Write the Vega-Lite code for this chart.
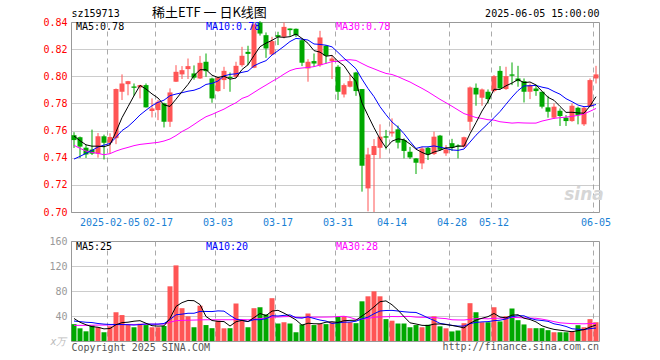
{
"$schema":"https://vega.github.io/schema/vega-lite/v6.json",
"background":"white",
"padding":{"left":42,"top":6,"right":5,"bottom":5},
"bounds":"flush",
"spacing":29,
"config":{
 "view":{"stroke":"#999999","strokeWidth":1},
 "font":"DejaVu Sans Mono",
 "axis":{"labelFont":"DejaVu Sans Mono","labelFontSize":10,"titleFont":"DejaVu Sans Mono","titleFontSize":10,"titleFontWeight":"normal","ticks":false,"domain":false,"gridOpacity":1,"labelOverlap":false},
 "text":{"font":"DejaVu Sans Mono","fontSize":10}
},
"datasets":{"k":[
{"d":"2025-01-20","o":0.7566,"h":0.7588,"l":0.7472,"c":0.753,"v":27,"m5":0.756,"m10":0.739,"m30":0.7491,"vm5":36,"vm10":32,"vm30":25},
{"d":"2025-01-21","o":0.7551,"h":0.7556,"l":0.7398,"c":0.7482,"v":20.3,"m5":0.7525,"m10":0.741,"m30":0.7469,"vm5":30,"vm10":31,"vm30":25},
{"d":"2025-01-22","o":0.7474,"h":0.7495,"l":0.7398,"c":0.7424,"v":15.5,"m5":0.7495,"m10":0.7432,"m30":0.7449,"vm5":26,"vm10":30,"vm30":25},
{"d":"2025-01-23","o":0.746,"h":0.7607,"l":0.742,"c":0.743,"v":25,"m5":0.7485,"m10":0.7454,"m30":0.7439,"vm5":23,"vm10":29.5,"vm30":25.3},
{"d":"2025-01-24","o":0.743,"h":0.7582,"l":0.74,"c":0.7558,"v":22,"m5":0.7485,"m10":0.7479,"m30":0.7432,"vm5":22,"vm10":28,"vm30":25.5},
{"d":"2025-01-27","o":0.7558,"h":0.757,"l":0.7387,"c":0.751,"v":14,"m5":0.7481,"m10":0.7493,"m30":0.7422,"vm5":19.4,"vm10":27,"vm30":25.5},
{"d":"2025-02-05","o":0.751,"h":0.758,"l":0.743,"c":0.7553,"v":23.5,"m5":0.7495,"m10":0.7505,"m30":0.743,"vm5":20,"vm10":26.5,"vm30":25.7},
{"d":"2025-02-06","o":0.7544,"h":0.791,"l":0.75,"c":0.7906,"v":46,"m5":0.7591,"m10":0.755,"m30":0.7449,"vm5":26.1,"vm10":26.5,"vm30":26},
{"d":"2025-02-07","o":0.7886,"h":0.8014,"l":0.7825,"c":0.7947,"v":41.5,"m5":0.7695,"m10":0.76,"m30":0.7464,"vm5":29.4,"vm10":26.3,"vm30":26.3},
{"d":"2025-02-10","o":0.7942,"h":0.7966,"l":0.786,"c":0.7964,"v":25.5,"m5":0.7776,"m10":0.763,"m30":0.7476,"vm5":30.1,"vm10":26,"vm30":26.5},
{"d":"2025-02-11","o":0.7925,"h":0.7947,"l":0.7856,"c":0.7915,"v":22,"m5":0.7857,"m10":0.767,"m30":0.7489,"vm5":31.7,"vm10":25.5,"vm30":26.5},
{"d":"2025-02-12","o":0.7918,"h":0.7937,"l":0.7837,"c":0.7935,"v":27.5,"m5":0.7933,"m10":0.7715,"m30":0.7498,"vm5":32.5,"vm10":26.3,"vm30":26.7},
{"d":"2025-02-13","o":0.7935,"h":0.7947,"l":0.777,"c":0.7771,"v":25.5,"m5":0.7906,"m10":0.775,"m30":0.7503,"vm5":28.4,"vm10":27.3,"vm30":26.8},
{"d":"2025-02-14","o":0.7744,"h":0.7837,"l":0.7697,"c":0.7763,"v":22,"m5":0.787,"m10":0.7783,"m30":0.7508,"vm5":24.5,"vm10":27,"vm30":27},
{"d":"2025-02-17","o":0.7751,"h":0.7825,"l":0.7677,"c":0.7812,"v":22,"m5":0.784,"m10":0.7808,"m30":0.7513,"vm5":23.8,"vm10":27,"vm30":27},
{"d":"2025-02-18","o":0.78,"h":0.7805,"l":0.7623,"c":0.7665,"v":24,"m5":0.7789,"m10":0.7824,"m30":0.7523,"vm5":24.2,"vm10":28,"vm30":27.2},
{"d":"2025-02-19","o":0.7665,"h":0.7911,"l":0.7627,"c":0.7881,"v":87.5,"m5":0.7778,"m10":0.7857,"m30":0.7538,"vm5":36.2,"vm10":34.4,"vm30":30},
{"d":"2025-02-20","o":0.796,"h":0.8082,"l":0.7958,"c":0.8033,"v":121,"m5":0.7831,"m10":0.7869,"m30":0.7563,"vm5":55.3,"vm10":41.9,"vm30":32.5},
{"d":"2025-02-21","o":0.8014,"h":0.8075,"l":0.798,"c":0.8045,"v":52.5,"m5":0.7887,"m10":0.7879,"m30":0.7593,"vm5":61.4,"vm10":43,"vm30":33},
{"d":"2025-02-24","o":0.8053,"h":0.8131,"l":0.798,"c":0.8075,"v":39.5,"m5":0.794,"m10":0.789,"m30":0.7616,"vm5":64.9,"vm10":44.4,"vm30":33.3},
{"d":"2025-02-25","o":0.8021,"h":0.808,"l":0.7975,"c":0.799,"v":22,"m5":0.8005,"m10":0.7897,"m30":0.7645,"vm5":64.5,"vm10":44.4,"vm30":33.5},
{"d":"2025-02-26","o":0.7984,"h":0.815,"l":0.798,"c":0.8099,"v":56.5,"m5":0.8048,"m10":0.7913,"m30":0.7675,"vm5":58.3,"vm10":47.3,"vm30":33.8},
{"d":"2025-02-27","o":0.8107,"h":0.8168,"l":0.7996,"c":0.8038,"v":25.5,"m5":0.8049,"m10":0.794,"m30":0.7702,"vm5":39.2,"vm10":47.3,"vm30":34},
{"d":"2025-02-28","o":0.7984,"h":0.799,"l":0.7805,"c":0.7837,"v":20.5,"m5":0.8008,"m10":0.7948,"m30":0.7719,"vm5":32.8,"vm10":47.1,"vm30":34},
{"d":"2025-03-03","o":0.7891,"h":0.7996,"l":0.7886,"c":0.7991,"v":32.5,"m5":0.7991,"m10":0.7965,"m30":0.7739,"vm5":31.4,"vm10":48.2,"vm30":34},
{"d":"2025-03-04","o":0.7972,"h":0.807,"l":0.7906,"c":0.804,"v":20.3,"m5":0.8001,"m10":0.8003,"m30":0.7758,"vm5":31.1,"vm10":47.8,"vm30":34},
{"d":"2025-03-05","o":0.7995,"h":0.8028,"l":0.7886,"c":0.7987,"v":20.5,"m5":0.7979,"m10":0.8014,"m30":0.7783,"vm5":23.9,"vm10":41.1,"vm30":34},
{"d":"2025-03-06","o":0.7996,"h":0.8107,"l":0.7989,"c":0.8077,"v":60,"m5":0.7987,"m10":0.8018,"m30":0.7805,"vm5":30.8,"vm10":35,"vm30":34.3},
{"d":"2025-03-07","o":0.8082,"h":0.8217,"l":0.807,"c":0.8151,"v":32,"m5":0.805,"m10":0.8029,"m30":0.7837,"vm5":33.1,"vm10":32.9,"vm30":34.3},
{"d":"2025-03-10","o":0.818,"h":0.8225,"l":0.8082,"c":0.8165,"v":22,"m5":0.8085,"m10":0.8038,"m30":0.7853,"vm5":31,"vm10":31.2,"vm30":33.9},
{"d":"2025-03-11","o":0.8063,"h":0.839,"l":0.806,"c":0.8382,"v":52.5,"m5":0.8153,"m10":0.8077,"m30":0.7881,"vm5":37.4,"vm10":34.2,"vm30":34.7},
{"d":"2025-03-12","o":0.8396,"h":0.8406,"l":0.83,"c":0.8315,"v":54,"m5":0.8218,"m10":0.8098,"m30":0.7909,"vm5":44.1,"vm10":34,"vm30":35.8},
{"d":"2025-03-13","o":0.8303,"h":0.8323,"l":0.8136,"c":0.8205,"v":42.5,"m5":0.8244,"m10":0.8115,"m30":0.7935,"vm5":40.6,"vm10":35.7,"vm30":36.7},
{"d":"2025-03-14","o":0.8161,"h":0.8291,"l":0.8156,"c":0.8259,"v":68.5,"m5":0.8265,"m10":0.8157,"m30":0.7962,"vm5":47.9,"vm10":40.5,"vm30":38.2},
{"d":"2025-03-17","o":0.8303,"h":0.8328,"l":0.823,"c":0.829,"v":28,"m5":0.829,"m10":0.8188,"m30":0.7987,"vm5":49.1,"vm10":40,"vm30":38.4},
{"d":"2025-03-18","o":0.8291,"h":0.8396,"l":0.8279,"c":0.8364,"v":30,"m5":0.8287,"m10":0.8221,"m30":0.8016,"vm5":44.6,"vm10":41,"vm30":38.9},
{"d":"2025-03-19","o":0.8352,"h":0.8352,"l":0.8298,"c":0.834,"v":28,"m5":0.8292,"m10":0.8256,"m30":0.8042,"vm5":39.4,"vm10":41.8,"vm30":39.1},
{"d":"2025-03-20","o":0.835,"h":0.8352,"l":0.829,"c":0.8303,"v":14,"m5":0.8311,"m10":0.8279,"m30":0.8056,"vm5":33.7,"vm10":37.2,"vm30":38},
{"d":"2025-03-21","o":0.8266,"h":0.8279,"l":0.8075,"c":0.81,"v":26.5,"m5":0.8279,"m10":0.8274,"m30":0.8061,"vm5":25.3,"vm10":36.6,"vm30":37.5},
{"d":"2025-03-24","o":0.8058,"h":0.8126,"l":0.796,"c":0.8107,"v":44,"m5":0.8243,"m10":0.8267,"m30":0.8065,"vm5":28.5,"vm10":38.8,"vm30":38.1},
{"d":"2025-03-25","o":0.8112,"h":0.8168,"l":0.807,"c":0.8094,"v":25.5,"m5":0.8189,"m10":0.8238,"m30":0.8071,"vm5":27.6,"vm10":36.1,"vm30":38.2},
{"d":"2025-03-26","o":0.8082,"h":0.8335,"l":0.807,"c":0.8286,"v":27.5,"m5":0.8178,"m10":0.8235,"m30":0.8083,"vm5":27.5,"vm10":33.5,"vm30":38.2},
{"d":"2025-03-27","o":0.8225,"h":0.8229,"l":0.8094,"c":0.8151,"v":27,"m5":0.8148,"m10":0.8229,"m30":0.8095,"vm5":30.1,"vm10":31.9,"vm30":38.3},
{"d":"2025-03-28","o":0.8112,"h":0.8156,"l":0.798,"c":0.8131,"v":30,"m5":0.8154,"m10":0.8217,"m30":0.8108,"vm5":30.8,"vm10":28.1,"vm30":38.5},
{"d":"2025-03-31","o":0.807,"h":0.8082,"l":0.7825,"c":0.7886,"v":38.5,"m5":0.811,"m10":0.8176,"m30":0.811,"vm5":29.7,"vm10":29.1,"vm30":39.1},
{"d":"2025-04-01","o":0.7866,"h":0.7947,"l":0.7844,"c":0.7935,"v":39.5,"m5":0.8078,"m10":0.8133,"m30":0.8119,"vm5":32.5,"vm10":30.1,"vm30":39.6},
{"d":"2025-04-02","o":0.7923,"h":0.8014,"l":0.7918,"c":0.7964,"v":30,"m5":0.8013,"m10":0.8096,"m30":0.8122,"vm5":33,"vm10":30.3,"vm30":37.7},
{"d":"2025-04-03","o":0.8028,"h":0.8033,"l":0.7856,"c":0.7891,"v":28.5,"m5":0.7961,"m10":0.8055,"m30":0.8117,"vm5":33.3,"vm10":31.7,"vm30":34.6},
{"d":"2025-04-07","o":0.7906,"h":0.7906,"l":0.715,"c":0.7341,"v":63.5,"m5":0.7803,"m10":0.7979,"m30":0.8094,"vm5":40,"vm10":35.4,"vm30":35},
{"d":"2025-04-08","o":0.7174,"h":0.7473,"l":0.7005,"c":0.7424,"v":71.5,"m5":0.7711,"m10":0.791,"m30":0.8072,"vm5":46.6,"vm10":38.2,"vm30":36},
{"d":"2025-04-09","o":0.742,"h":0.7537,"l":0.7,"c":0.7486,"v":79.5,"m5":0.7621,"m10":0.785,"m30":0.8055,"vm5":54.6,"vm10":43.6,"vm30":38},
{"d":"2025-04-10","o":0.7473,"h":0.7646,"l":0.7395,"c":0.7555,"v":71.5,"m5":0.7539,"m10":0.7776,"m30":0.8037,"vm5":62.9,"vm10":48,"vm30":38.5},
{"d":"2025-04-11","o":0.7558,"h":0.7605,"l":0.7461,"c":0.7548,"v":35,"m5":0.7472,"m10":0.7717,"m30":0.8021,"vm5":64.2,"vm10":48.8,"vm30":38.8},
{"d":"2025-04-14","o":0.7579,"h":0.769,"l":0.7555,"c":0.7591,"v":32.5,"m5":0.7522,"m10":0.7663,"m30":0.8013,"vm5":58,"vm10":49,"vm30":39.2},
{"d":"2025-04-15","o":0.7609,"h":0.7637,"l":0.7468,"c":0.7511,"v":28,"m5":0.7539,"m10":0.7625,"m30":0.7997,"vm5":49.3,"vm10":48,"vm30":39},
{"d":"2025-04-16","o":0.7531,"h":0.7543,"l":0.7395,"c":0.745,"v":28,"m5":0.7532,"m10":0.7577,"m30":0.7977,"vm5":39,"vm10":46.8,"vm30":39.3},
{"d":"2025-04-17","o":0.7444,"h":0.748,"l":0.739,"c":0.7402,"v":22,"m5":0.7501,"m10":0.752,"m30":0.7958,"vm5":29.1,"vm10":46,"vm30":39.3},
{"d":"2025-04-18","o":0.7395,"h":0.7398,"l":0.728,"c":0.7363,"v":25.5,"m5":0.7463,"m10":0.7468,"m30":0.7934,"vm5":27.2,"vm10":45.7,"vm30":38.2},
{"d":"2025-04-21","o":0.7358,"h":0.748,"l":0.7316,"c":0.7468,"v":22,"m5":0.7439,"m10":0.748,"m30":0.7911,"vm5":25.1,"vm10":41.6,"vm30":37.9},
{"d":"2025-04-22","o":0.7473,"h":0.748,"l":0.7383,"c":0.7424,"v":26,"m5":0.7421,"m10":0.748,"m30":0.7886,"vm5":24.7,"vm10":37,"vm30":38},
{"d":"2025-04-23","o":0.7427,"h":0.7592,"l":0.742,"c":0.7555,"v":39.5,"m5":0.7442,"m10":0.7487,"m30":0.7858,"vm5":27,"vm10":33,"vm30":37.6},
{"d":"2025-04-24","o":0.7563,"h":0.7568,"l":0.745,"c":0.7458,"v":23.5,"m5":0.7454,"m10":0.7478,"m30":0.783,"vm5":27.3,"vm10":28.2,"vm30":36.5},
{"d":"2025-04-25","o":0.7432,"h":0.7493,"l":0.7414,"c":0.7461,"v":20.3,"m5":0.7473,"m10":0.7468,"m30":0.7805,"vm5":26.3,"vm10":26.7,"vm30":35.8},
{"d":"2025-04-28","o":0.7507,"h":0.7539,"l":0.745,"c":0.7473,"v":15.3,"m5":0.7474,"m10":0.7457,"m30":0.7779,"vm5":24.9,"vm10":25,"vm30":34},
{"d":"2025-04-29","o":0.749,"h":0.7499,"l":0.7395,"c":0.7482,"v":16.8,"m5":0.7486,"m10":0.7454,"m30":0.7752,"vm5":23.1,"vm10":23.9,"vm30":33.7},
{"d":"2025-04-30","o":0.7482,"h":0.7555,"l":0.7473,"c":0.7551,"v":28.5,"m5":0.7485,"m10":0.7464,"m30":0.7725,"vm5":20.9,"vm10":23.9,"vm30":33.6},
{"d":"2025-05-06","o":0.7665,"h":0.7925,"l":0.76,"c":0.7918,"v":60.5,"m5":0.7577,"m10":0.7515,"m30":0.7711,"vm5":28.3,"vm10":27.8,"vm30":34.7},
{"d":"2025-05-07","o":0.7915,"h":0.7947,"l":0.7783,"c":0.7866,"v":46,"m5":0.7658,"m10":0.7566,"m30":0.7696,"vm5":33.4,"vm10":29.8,"vm30":35.8},
{"d":"2025-05-08","o":0.7842,"h":0.791,"l":0.7783,"c":0.7903,"v":30,"m5":0.7744,"m10":0.7609,"m30":0.7689,"vm5":36.4,"vm10":30.6,"vm30":35.9},
{"d":"2025-05-09","o":0.7886,"h":0.7903,"l":0.78,"c":0.7832,"v":30,"m5":0.7814,"m10":0.765,"m30":0.768,"vm5":39,"vm10":31,"vm30":35.4},
{"d":"2025-05-12","o":0.7891,"h":0.8009,"l":0.7881,"c":0.8001,"v":54,"m5":0.7904,"m10":0.7695,"m30":0.7677,"vm5":44.1,"vm10":32.5,"vm30":36.4},
{"d":"2025-05-13","o":0.804,"h":0.8075,"l":0.7906,"c":0.7911,"v":31.3,"m5":0.7903,"m10":0.774,"m30":0.7665,"vm5":38.3,"vm10":33.3,"vm30":36.5},
{"d":"2025-05-14","o":0.7906,"h":0.807,"l":0.79,"c":0.8001,"v":39.5,"m5":0.793,"m10":0.7794,"m30":0.766,"vm5":37,"vm10":35.2,"vm30":36.9},
{"d":"2025-05-15","o":0.8014,"h":0.8102,"l":0.7935,"c":0.8004,"v":52,"m5":0.795,"m10":0.7847,"m30":0.7655,"vm5":41.4,"vm10":38.9,"vm30":37.6},
{"d":"2025-05-16","o":0.7984,"h":0.8077,"l":0.7923,"c":0.7964,"v":33.3,"m5":0.7976,"m10":0.7895,"m30":0.7658,"vm5":42,"vm10":40.5,"vm30":37.5},
{"d":"2025-05-19","o":0.7964,"h":0.7984,"l":0.7807,"c":0.7886,"v":26.5,"m5":0.7953,"m10":0.7929,"m30":0.7656,"vm5":36.5,"vm10":40.3,"vm30":37},
{"d":"2025-05-20","o":0.7886,"h":0.7947,"l":0.7832,"c":0.7935,"v":20.5,"m5":0.7958,"m10":0.793,"m30":0.7655,"vm5":34.4,"vm10":36.3,"vm30":36.7},
{"d":"2025-05-21","o":0.791,"h":0.794,"l":0.7856,"c":0.7891,"v":20.5,"m5":0.7936,"m10":0.7933,"m30":0.7655,"vm5":30.6,"vm10":33.8,"vm30":36.4},
{"d":"2025-05-22","o":0.7886,"h":0.7886,"l":0.7763,"c":0.7776,"v":20.5,"m5":0.789,"m10":0.792,"m30":0.767,"vm5":24.3,"vm10":32.8,"vm30":35},
{"d":"2025-05-23","o":0.7771,"h":0.7856,"l":0.7695,"c":0.7739,"v":17.3,"m5":0.7845,"m10":0.7911,"m30":0.768,"vm5":21.1,"vm10":31.5,"vm30":33.2},
{"d":"2025-05-26","o":0.7695,"h":0.78,"l":0.7685,"c":0.7776,"v":14,"m5":0.7823,"m10":0.7888,"m30":0.769,"vm5":18.6,"vm10":27.5,"vm30":31},
{"d":"2025-05-27","o":0.7746,"h":0.7763,"l":0.7634,"c":0.7707,"v":14,"m5":0.7778,"m10":0.7868,"m30":0.7695,"vm5":17.3,"vm10":25.8,"vm30":29.1},
{"d":"2025-05-28","o":0.7695,"h":0.7714,"l":0.7634,"c":0.767,"v":14,"m5":0.7734,"m10":0.7835,"m30":0.7699,"vm5":16,"vm10":23.3,"vm30":28.4},
{"d":"2025-05-29","o":0.767,"h":0.78,"l":0.7665,"c":0.7783,"v":15.3,"m5":0.7735,"m10":0.7813,"m30":0.7705,"vm5":14.9,"vm10":19.6,"vm30":27.8},
{"d":"2025-05-30","o":0.7768,"h":0.7776,"l":0.7646,"c":0.7714,"v":25.3,"m5":0.773,"m10":0.7788,"m30":0.7712,"vm5":16.5,"vm10":18.8,"vm30":27.7},
{"d":"2025-06-03","o":0.7646,"h":0.7776,"l":0.7634,"c":0.7768,"v":22,"m5":0.7728,"m10":0.7776,"m30":0.7723,"vm5":18.1,"vm10":18.3,"vm30":27.5},
{"d":"2025-06-04","o":0.7776,"h":0.7984,"l":0.7776,"c":0.7972,"v":35,"m5":0.7781,"m10":0.778,"m30":0.7742,"vm5":22.3,"vm10":19.8,"vm30":28},
{"d":"2025-06-05","o":0.7984,"h":0.8077,"l":0.7947,"c":0.8014,"v":30,"m5":0.785,"m10":0.7792,"m30":0.7763,"vm5":25.5,"vm10":20.7,"vm30":28.1}
]},
"vconcat":[
{
 "width":528,"height":190,
 "data":{"name":"k"},
 "title":{"text":"稀土ETF 一 日K线图","font":"Noto Sans CJK SC","fontSize":13,"fontWeight":"normal","color":"#000000","anchor":"start","frame":"group","dx":81,"offset":-12},
 "encoding":{"x":{"field":"d","type":"ordinal","sort":null,"scale":{"type":"band","paddingInner":0,"paddingOuter":0},
   "axis":{"values":["2025-02-05","2025-02-17","2025-03-03","2025-03-17","2025-03-31","2025-04-14","2025-04-28","2025-05-12","2025-06-05"],
     "labelExpr":"datum.value == '2025-02-05' ? datum.value : substring(datum.value, 5)",
     "labelColor":"#1a7fd4","labelPadding":5,"labelAngle":0,"labelOverlap":false,"bandPosition":0,
     "grid":true,"gridDash":[5,4],"gridColor":"#aaaaaa",
     "title":"2025-06-05 15:00:00","titleX":528,"titleY":-199,"titleAlign":"right","titleBaseline":"middle","titleColor":"#000000"}}},
 "layer":[
  {"mark":{"type":"rule","strokeWidth":1},
   "encoding":{"y":{"field":"l","type":"quantitative","scale":{"domain":[0.7,0.84],"nice":false,"zero":false},
      "axis":{"values":[0.7,0.72,0.74,0.76,0.78,0.8,0.82,0.84],"tickCount":20,"format":".2f","labelColor":"#ff0000","labelPadding":4,"labelOverlap":false,"grid":true,"gridDash":[1,1],"gridColor":"#999999",
        "title":"sz159713","titleAngle":0,"titleX":0,"titleY":-9,"titleAlign":"left","titleBaseline":"middle","titleColor":"#000000"}},
     "y2":{"field":"h"},
     "color":{"condition":{"test":"datum.c >= datum.o","value":"#ff5555"},"value":"#00a800"}}},
  {"mark":{"type":"bar","size":5},
   "encoding":{"y":{"field":"o","type":"quantitative"},"y2":{"field":"c"},
     "color":{"condition":{"test":"datum.c >= datum.o","value":"#ff5555"},"value":"#00a800"}}},
  {"mark":{"type":"line","strokeWidth":1,"color":"#ff00ff"},"encoding":{"y":{"field":"m30","type":"quantitative"}}},
  {"mark":{"type":"line","strokeWidth":1,"color":"#0000ff"},"encoding":{"y":{"field":"m10","type":"quantitative"}}},
  {"mark":{"type":"line","strokeWidth":1,"color":"#000000"},"encoding":{"y":{"field":"m5","type":"quantitative"}}},
  {"data":{"values":[{}]},"mark":{"type":"text","align":"left","baseline":"top","dx":2,"color":"#000000"},
   "encoding":{"x":{"datum":"2025-01-20","type":"ordinal"},"y":{"datum":0.84,"type":"quantitative"},"text":{"value":"MA5:0.78"}}},
  {"data":{"values":[{}]},"mark":{"type":"text","align":"left","baseline":"top","dx":0,"color":"#0000ff"},
   "encoding":{"x":{"datum":"2025-02-27","type":"ordinal"},"y":{"datum":0.84,"type":"quantitative"},"text":{"value":"MA10:0.78"}}},
  {"data":{"values":[{}]},"mark":{"type":"text","align":"left","baseline":"top","dx":-2,"color":"#ff00ff"},
   "encoding":{"x":{"datum":"2025-03-31","type":"ordinal"},"y":{"datum":0.84,"type":"quantitative"},"text":{"value":"MA30:0.78"}}},
  {"data":{"values":[{}]},"mark":{"type":"text","align":"center","baseline":"middle","font":"DejaVu Sans","fontSize":17,"fontWeight":"bold","fontStyle":"italic","color":"#d6d6d6"},
   "encoding":{"x":{"datum":"2025-06-03","type":"ordinal"},"y":{"datum":0.7124,"type":"quantitative"},"text":{"value":"sina"}}}
 ]
},
{
 "width":528,"height":100,
 "data":{"name":"k"},
 "encoding":{"x":{"field":"d","type":"ordinal","sort":null,"scale":{"type":"band","paddingInner":0,"paddingOuter":0},
   "axis":{"values":["2025-02-05","2025-02-17","2025-03-03","2025-03-17","2025-03-31","2025-04-14","2025-04-28","2025-05-12","2025-06-05"],
     "labels":false,"bandPosition":0,"grid":true,"gridDash":[5,4],"gridColor":"#aaaaaa",
     "title":"Copyright 2025 SINA.COM","titleX":0,"titleY":6,"titleAlign":"left","titleBaseline":"middle","titleColor":"#555555"}}},
 "layer":[
  {"mark":{"type":"bar","size":5},
   "encoding":{"y":{"field":"v","type":"quantitative","scale":{"domain":[0,160],"nice":false},
      "axis":{"values":[40,80,120,160],"tickCount":20,"labelColor":"#999999","labelPadding":4,"labelOverlap":false,"grid":true,"gridDash":[1,1],"gridColor":"#999999",
        "title":"x万","titleAngle":0,"titleX":-5,"titleY":100,"titleAlign":"right","titleBaseline":"middle","titleColor":"#bbbbbb","titleFontStyle":"italic"}},
     "color":{"condition":{"test":"datum.c >= datum.o","value":"#ff5555"},"value":"#00a800"}}},
  {"mark":{"type":"line","strokeWidth":1,"color":"#ff00ff"},"encoding":{"y":{"field":"vm30","type":"quantitative"}}},
  {"mark":{"type":"line","strokeWidth":1,"color":"#0000ff"},"encoding":{"y":{"field":"vm10","type":"quantitative"}}},
  {"mark":{"type":"line","strokeWidth":1,"color":"#000000"},"encoding":{"y":{"field":"vm5","type":"quantitative"}}},
  {"data":{"values":[{}]},"mark":{"type":"text","align":"left","baseline":"top","dx":2,"dy":1,"color":"#000000"},
   "encoding":{"x":{"datum":"2025-01-20","type":"ordinal"},"y":{"datum":160,"type":"quantitative"},"text":{"value":"MA5:25"}}},
  {"data":{"values":[{}]},"mark":{"type":"text","align":"left","baseline":"top","dx":0,"dy":1,"color":"#0000ff"},
   "encoding":{"x":{"datum":"2025-02-27","type":"ordinal"},"y":{"datum":160,"type":"quantitative"},"text":{"value":"MA10:20"}}},
  {"data":{"values":[{}]},"mark":{"type":"text","align":"left","baseline":"top","dx":-2,"dy":1,"color":"#ff00ff"},
   "encoding":{"x":{"datum":"2025-03-31","type":"ordinal"},"y":{"datum":160,"type":"quantitative"},"text":{"value":"MA30:28"}}},
  {"data":{"values":[{}]},"mark":{"type":"text","align":"right","baseline":"middle","dx":3,"dy":6,"color":"#555555"},
   "encoding":{"x":{"datum":"2025-06-05","type":"ordinal"},"y":{"datum":0,"type":"quantitative"},"text":{"value":"http://finance.sina.com.cn"}}}
 ]
}
]
}
